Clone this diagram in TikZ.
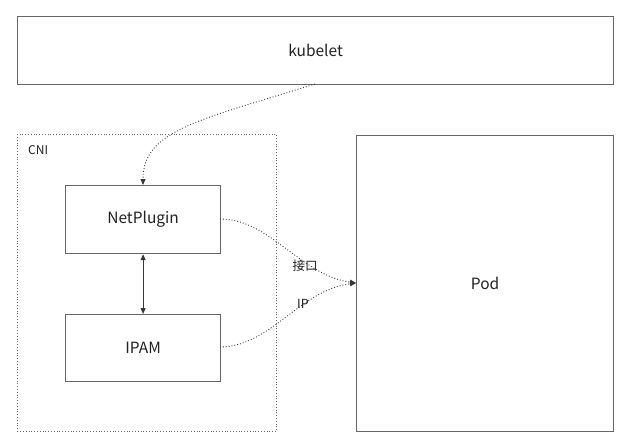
\documentclass[tikz,border=0pt]{standalone}
\usepackage{fontspec}
\setmainfont{Noto Sans CJK SC}
\usetikzlibrary{arrows.meta}
\definecolor{edge}{HTML}{666666}
\definecolor{txt}{HTML}{222222}
\tikzset{
  box/.style={draw=edge, line width=1.2pt, fill=white, text=txt, font=\fontsize{15.5}{18}\selectfont},
  group/.style={draw=edge, line width=0.8pt, dotted},
  link/.style={draw=txt!90, line width=0.9pt, dotted, -{Triangle[length=6pt,width=5pt]}},
  lbl/.style={text=txt, font=\fontsize{12.5}{14}\selectfont, inner sep=1pt}
}
\begin{document}
\begin{tikzpicture}[x=1pt,y=-1pt]
\useasboundingbox (0,0) rectangle (637,445);
\node[group, minimum width=259pt, minimum height=297pt, anchor=north west] (cni) at (17,134) {};
\node[anchor=north west, text=txt, font=\fontsize{12}{14}\selectfont, inner sep=0pt] (cnil) at (28,145) {CNI};
\node[box, minimum width=596pt, minimum height=68pt, anchor=north west] (kubelet) at (17,16) {kubelet};
\node[box, minimum width=155pt, minimum height=68pt, anchor=north west] (net) at (65,185) {NetPlugin};
\node[box, minimum width=155pt, minimum height=67pt, anchor=north west] (ipam) at (65,314) {IPAM};
\node[box, minimum width=257pt, minimum height=296pt, anchor=north west] (pod) at (356,135) {Pod};
\coordinate (ks) at (315,84);
\coordinate (nt) at (143,185);
\coordinate (ns) at (220,219);
\coordinate (is) at (220,347);
\coordinate (pin) at (356,283);
\draw[link] (ks) .. controls (200,120) and (143,130) .. (nt);
\draw[link] (ns) .. controls (270,219) and (300,275) .. (pin);
\draw[link] (is) .. controls (270,347) and (300,290) .. (pin);
\draw[draw=txt!90, line width=1pt, {Triangle[length=6pt,width=5pt]}-{Triangle[length=6pt,width=5pt]}] (net) -- (ipam);
\node[lbl] (l1) at (305,266) {接口};
\node[lbl] (l2) at (303,304) {IP};
\end{tikzpicture}
\end{document}
